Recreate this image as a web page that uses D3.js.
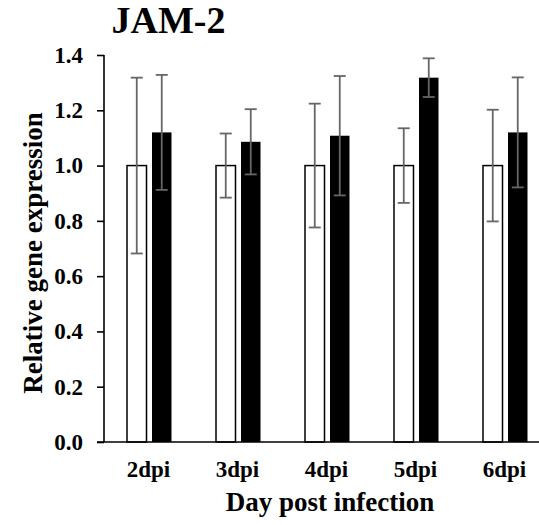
<!DOCTYPE html>
<html><head><meta charset="utf-8">
<script src="https://cdn.jsdelivr.net/npm/d3@7"></script>
<style>body{margin:0;background:#fff}svg{display:block}text{font-family:"Liberation Serif","Times New Roman",serif;font-weight:bold;fill:#000}</style>
</head><body><div id="chart"></div>
<script>
const categories = ["2dpi","3dpi","4dpi","5dpi","6dpi"];
const controlValues = [1.0, 1.0, 1.0, 1.0, 1.0];
const controlErrors = [0.318, 0.116, 0.224, 0.135, 0.202];
const infectedValues = [1.120, 1.086, 1.108, 1.318, 1.120];
const infectedErrors = [0.208, 0.118, 0.216, 0.070, 0.199];
const yTicks = [0.0, 0.2, 0.4, 0.6, 0.8, 1.0, 1.2, 1.4];

const W = 539, H = 525;
const svg = d3.select("#chart").append("svg").attr("width", W).attr("height", H);
const x = d3.scaleBand().domain(categories).range([104, 549]).padding(0);
const y = d3.scaleLinear().domain([0, 1.4]).range([442, 55]);

// bars
const rows = categories.map((c, i) => ({c, cv: controlValues[i], ce: controlErrors[i], iv: infectedValues[i], ie: infectedErrors[i]}));
const g = svg.append("g");
rows.forEach(d => {
  const cx = x(d.c) + x.bandwidth() / 2;
  g.append("rect").attr("x", cx - 21.5).attr("y", y(d.cv)).attr("width", 19.5).attr("height", y(0) - y(d.cv))
    .attr("fill", "#fff").attr("stroke", "#000").attr("stroke-width", 1.5);
  g.append("rect").attr("x", cx + 3.5).attr("y", y(d.iv)).attr("width", 19.5).attr("height", y(0) - y(d.iv))
    .attr("fill", "#000");
  [[cx - 11.75, d.cv, d.ce], [cx + 13.25, d.iv, d.ie]].forEach(([ex, v, e]) => {
    const eg = g.append("g").attr("stroke", "#666").attr("stroke-width", 1.8);
    eg.append("line").attr("x1", ex).attr("x2", ex).attr("y1", y(v + e)).attr("y2", y(v - e));
    eg.append("line").attr("x1", ex - 6).attr("x2", ex + 6).attr("y1", y(v + e)).attr("y2", y(v + e));
    eg.append("line").attr("x1", ex - 6).attr("x2", ex + 6).attr("y1", y(v - e)).attr("y2", y(v - e));
  });
});

// y axis
const ya = svg.append("g").attr("transform", "translate(104,0)")
  .call(d3.axisLeft(y).tickValues(yTicks).tickFormat(d3.format(".1f")).tickSize(7).tickPadding(14));
ya.select(".domain").attr("stroke-width", 1.6).attr("d", "M0,442V55");
ya.selectAll(".tick line").attr("stroke-width", 1.6);
ya.selectAll("text").style("font-size", "23px");

// x axis baseline
svg.append("line").attr("x1", 97).attr("x2", 539).attr("y1", y(0)).attr("y2", y(0)).attr("stroke", "#000").attr("stroke-width", 1.6);
svg.append("g").selectAll("text").data(categories).join("text")
  .attr("x", d => x(d) + x.bandwidth() / 2).attr("y", 477).attr("text-anchor", "middle")
  .style("font-size", "23px").text(d => d);

svg.append("text").attr("x", 168.5).attr("y", 33).attr("text-anchor", "middle").style("font-size", "38px").text("JAM-2");
svg.append("text").attr("x", 330).attr("y", 511).attr("text-anchor", "middle").style("font-size", "27px").text("Day post infection");
svg.append("text").attr("transform", "translate(42,253) rotate(-90)").attr("text-anchor", "middle").style("font-size", "27px").text("Relative gene expression");
</script></body></html>
